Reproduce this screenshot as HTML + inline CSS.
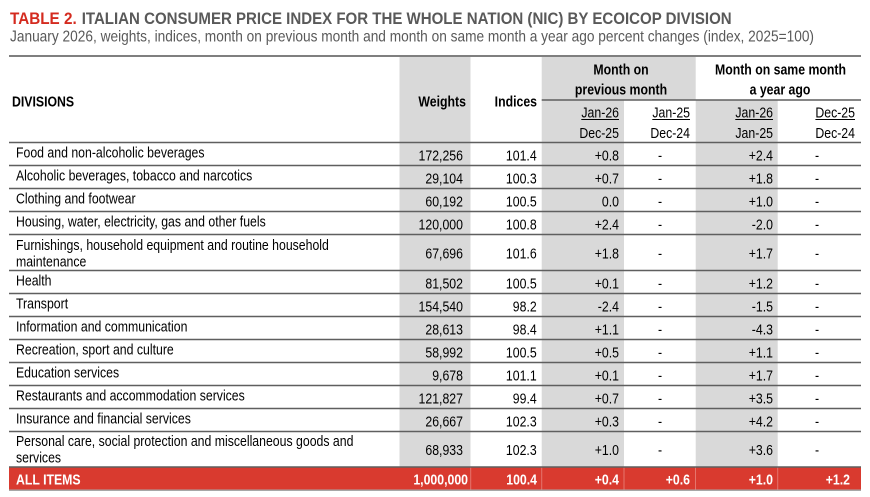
<!DOCTYPE html>
<html><head><meta charset="utf-8"><style>
html,body{margin:0;padding:0;background:#fff;}
svg{display:block;}
text{font-family:"Liberation Sans",Arial,sans-serif;}
</style></head><body>
<svg width="870" height="497" viewBox="0 0 870 497" xmlns="http://www.w3.org/2000/svg">
<rect width="870" height="497" fill="#fff"/>
<!-- title -->
<text x="10" y="24" font-size="16.5" font-weight="bold" fill="#d42b1f" textLength="66.7" lengthAdjust="spacingAndGlyphs">TABLE 2.</text>
<text x="81.7" y="24" font-size="16.5" font-weight="bold" fill="#595959" textLength="650" lengthAdjust="spacingAndGlyphs">ITALIAN CONSUMER PRICE INDEX FOR THE WHOLE NATION (NIC) BY ECOICOP DIVISION</text>
<text x="10" y="41.5" font-size="16" fill="#595959" textLength="804" lengthAdjust="spacingAndGlyphs">January 2026, weights, indices, month on previous month and month on same month a year ago percent changes (index, 2025=100)</text>

<!-- grey columns -->
<rect x="399.5" y="56" width="71" height="411.5" fill="#d9d9d9"/>
<rect x="541.7" y="56" width="154" height="44" fill="#d9d9d9"/>
<rect x="541.7" y="100" width="82.3" height="367.5" fill="#d9d9d9"/>
<rect x="695.7" y="100" width="82" height="367.5" fill="#d9d9d9"/>

<!-- red total row -->
<rect x="9" y="467.5" width="852" height="22" fill="#d93a2f"/>
<g stroke="#e5756c" stroke-width="1">
<line x1="470.7" y1="467.5" x2="470.7" y2="489.5"/>
<line x1="541.7" y1="467.5" x2="541.7" y2="489.5"/>
<line x1="624" y1="467.5" x2="624" y2="489.5"/>
<line x1="695.5" y1="467.5" x2="695.5" y2="489.5"/>
<line x1="777.7" y1="467.5" x2="777.7" y2="489.5"/>
</g>

<!-- lines -->
<line x1="9" y1="56" x2="861" y2="56" stroke="#7f7f7f" stroke-width="2"/>
<line x1="541.7" y1="100" x2="861" y2="100" stroke="#5f5f5f" stroke-width="1.5"/>
<g stroke="#5f5f5f" stroke-width="1.5">
<line x1="9" y1="142.5" x2="861" y2="142.5"/>
<line x1="9" y1="165.5" x2="861" y2="165.5"/>
<line x1="9" y1="188.5" x2="861" y2="188.5"/>
<line x1="9" y1="211.5" x2="861" y2="211.5"/>
<line x1="9" y1="234.5" x2="861" y2="234.5"/>
<line x1="9" y1="270.5" x2="861" y2="270.5"/>
<line x1="9" y1="293.5" x2="861" y2="293.5"/>
<line x1="9" y1="316.5" x2="861" y2="316.5"/>
<line x1="9" y1="339.5" x2="861" y2="339.5"/>
<line x1="9" y1="362.5" x2="861" y2="362.5"/>
<line x1="9" y1="385.5" x2="861" y2="385.5"/>
<line x1="9" y1="408.5" x2="861" y2="408.5"/>
<line x1="9" y1="431.5" x2="861" y2="431.5"/>
<line x1="9" y1="467" x2="861" y2="467"/>
</g>
<line x1="9" y1="490.2" x2="861" y2="490.2" stroke="#8a8a8a" stroke-width="1.2"/>

<!-- underlines -->
<g stroke="#000" stroke-width="1">
<line x1="581.3" y1="119.5" x2="619" y2="119.5"/>
<line x1="652.3" y1="119.5" x2="690" y2="119.5"/>
<line x1="735.3" y1="119.5" x2="773" y2="119.5"/>
<line x1="815.4" y1="119.5" x2="855" y2="119.5"/>
</g>

<g transform="scale(0.82,1)" font-size="15" fill="#000">
<!-- header -->
<g font-weight="bold">
<text x="14.63" y="106.5">DIVISIONS</text>
<text x="568.29" y="106.5" text-anchor="end">Weights</text>
<text x="654.88" y="106.5" text-anchor="end">Indices</text>
<text x="757.32" y="74.5" text-anchor="middle">Month on</text>
<text x="757.32" y="94.5" text-anchor="middle">previous month</text>
<text x="951.83" y="74.5" text-anchor="middle">Month on same month</text>
<text x="951.2" y="94.5" text-anchor="middle">a year ago</text>
</g>
<text x="754.88" y="117.5" text-anchor="end">Jan-26</text>
<text x="841.46" y="117.5" text-anchor="end">Jan-25</text>
<text x="942.68" y="117.5" text-anchor="end">Jan-26</text>
<text x="1042.68" y="117.5" text-anchor="end">Dec-25</text>
<text x="754.88" y="138" text-anchor="end">Dec-25</text>
<text x="841.46" y="138" text-anchor="end">Dec-24</text>
<text x="942.68" y="138" text-anchor="end">Jan-25</text>
<text x="1042.68" y="138" text-anchor="end">Dec-24</text>

<!-- labels -->
<g>
<text x="19.51" y="157.5">Food and non-alcoholic beverages</text>
<text x="19.51" y="180.5">Alcoholic beverages, tobacco and narcotics</text>
<text x="19.51" y="203.5">Clothing and footwear</text>
<text x="19.51" y="226.5">Housing, water, electricity, gas and other fuels</text>
<text x="19.51" y="250">Furnishings, household equipment and routine household</text>
<text x="19.51" y="266.5">maintenance</text>
<text x="19.51" y="285.5">Health</text>
<text x="19.51" y="308.5">Transport</text>
<text x="19.51" y="331.5">Information and communication</text>
<text x="19.51" y="354.5">Recreation, sport and culture</text>
<text x="19.51" y="377.5">Education services</text>
<text x="19.51" y="400.5">Restaurants and accommodation services</text>
<text x="19.51" y="423.5">Insurance and financial services</text>
<text x="19.51" y="446">Personal care, social protection and miscellaneous goods and</text>
<text x="19.51" y="462.5">services</text>
</g>

<!-- weights -->
<g text-anchor="end">
<text x="564.6" y="160.5">172,256</text>
<text x="564.6" y="183.5">29,104</text>
<text x="564.6" y="206.5">60,192</text>
<text x="564.6" y="229.5">120,000</text>
<text x="564.6" y="258.5">67,696</text>
<text x="564.6" y="288.5">81,502</text>
<text x="564.6" y="311.5">154,540</text>
<text x="564.6" y="334.5">28,613</text>
<text x="564.6" y="357.5">58,992</text>
<text x="564.6" y="380.5">9,678</text>
<text x="564.6" y="403.5">121,827</text>
<text x="564.6" y="426.5">26,667</text>
<text x="564.6" y="455">68,933</text>
</g>
<!-- indices -->
<g text-anchor="end">
<text x="654.51" y="160.5">101.4</text>
<text x="654.51" y="183.5">100.3</text>
<text x="654.51" y="206.5">100.5</text>
<text x="654.51" y="229.5">100.8</text>
<text x="654.51" y="258.5">101.6</text>
<text x="654.51" y="288.5">100.5</text>
<text x="654.51" y="311.5">98.2</text>
<text x="654.51" y="334.5">98.4</text>
<text x="654.51" y="357.5">100.5</text>
<text x="654.51" y="380.5">101.1</text>
<text x="654.51" y="403.5">99.4</text>
<text x="654.51" y="426.5">102.3</text>
<text x="654.51" y="455">102.3</text>
</g>
<!-- MoM -->
<g text-anchor="end">
<text x="754.88" y="160.5">+0.8</text>
<text x="754.88" y="183.5">+0.7</text>
<text x="754.88" y="206.5">0.0</text>
<text x="754.88" y="229.5">+2.4</text>
<text x="754.88" y="258.5">+1.8</text>
<text x="754.88" y="288.5">+0.1</text>
<text x="754.88" y="311.5">-2.4</text>
<text x="754.88" y="334.5">+1.1</text>
<text x="754.88" y="357.5">+0.5</text>
<text x="754.88" y="380.5">+0.1</text>
<text x="754.88" y="403.5">+0.7</text>
<text x="754.88" y="426.5">+0.3</text>
<text x="754.88" y="455">+1.0</text>
</g>
<!-- dashes -->
<g text-anchor="middle">
<text x="804.88" y="160.5">-</text><text x="996.34" y="160.5">-</text>
<text x="804.88" y="183.5">-</text><text x="996.34" y="183.5">-</text>
<text x="804.88" y="206.5">-</text><text x="996.34" y="206.5">-</text>
<text x="804.88" y="229.5">-</text><text x="996.34" y="229.5">-</text>
<text x="804.88" y="258.5">-</text><text x="996.34" y="258.5">-</text>
<text x="804.88" y="288.5">-</text><text x="996.34" y="288.5">-</text>
<text x="804.88" y="311.5">-</text><text x="996.34" y="311.5">-</text>
<text x="804.88" y="334.5">-</text><text x="996.34" y="334.5">-</text>
<text x="804.88" y="357.5">-</text><text x="996.34" y="357.5">-</text>
<text x="804.88" y="380.5">-</text><text x="996.34" y="380.5">-</text>
<text x="804.88" y="403.5">-</text><text x="996.34" y="403.5">-</text>
<text x="804.88" y="426.5">-</text><text x="996.34" y="426.5">-</text>
<text x="804.88" y="455">-</text><text x="996.34" y="455">-</text>
</g>
<!-- YoY -->
<g text-anchor="end">
<text x="942.68" y="160.5">+2.4</text>
<text x="942.68" y="183.5">+1.8</text>
<text x="942.68" y="206.5">+1.0</text>
<text x="942.68" y="229.5">-2.0</text>
<text x="942.68" y="258.5">+1.7</text>
<text x="942.68" y="288.5">+1.2</text>
<text x="942.68" y="311.5">-1.5</text>
<text x="942.68" y="334.5">-4.3</text>
<text x="942.68" y="357.5">+1.1</text>
<text x="942.68" y="380.5">+1.7</text>
<text x="942.68" y="403.5">+3.5</text>
<text x="942.68" y="426.5">+4.2</text>
<text x="942.68" y="455">+3.6</text>
</g>

<!-- ALL ITEMS -->
<g font-weight="bold" fill="#fff">
<text x="19.51" y="484.5">ALL ITEMS</text>
<text x="570.73" y="484.5" text-anchor="end">1,000,000</text>
<text x="654.88" y="484.5" text-anchor="end">100.4</text>
<text x="754.88" y="484.5" text-anchor="end">+0.4</text>
<text x="841.46" y="484.5" text-anchor="end">+0.6</text>
<text x="942.68" y="484.5" text-anchor="end">+1.0</text>
<text x="1036.59" y="484.5" text-anchor="end">+1.2</text>
</g>
</g>
</svg>
</body></html>
